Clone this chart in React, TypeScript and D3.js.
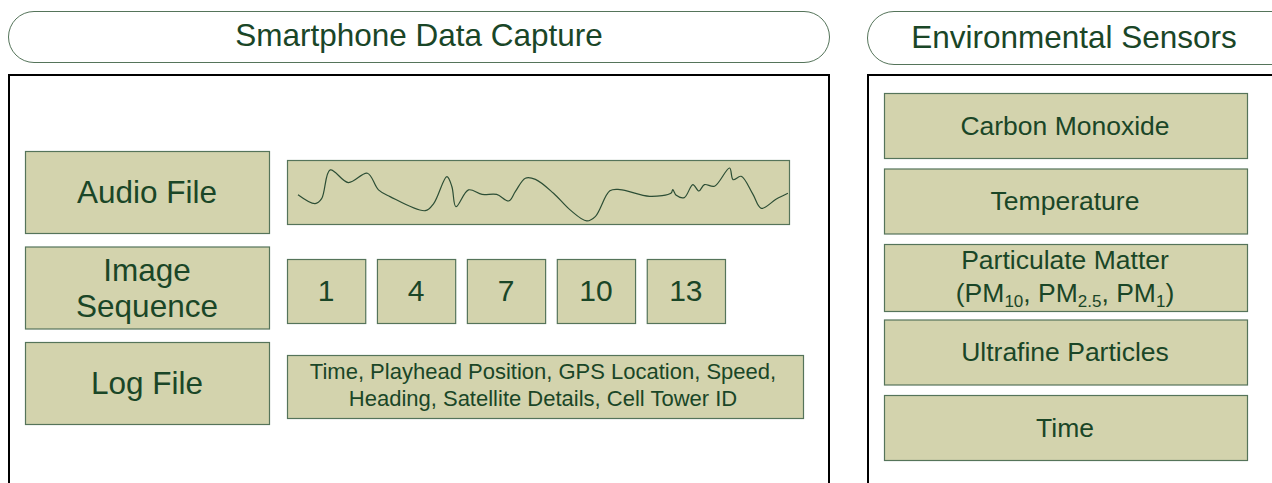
import * as d3 from "d3";

// panel titles
const panelTitles = ["Smartphone Data Capture", "Environmental Sensors"];

// left column rows
const captureLabels = [["Audio File"], ["Image", "Sequence"], ["Log File"]];

// image sequence frame numbers
const frameNumbers = ["1", "4", "7", "10", "13"];

// log file contents
const logLines = [
  "Time, Playhead Position, GPS Location, Speed,",
  "Heading, Satellite Details, Cell Tower ID",
];

// sensor list
const sensorLabels = ["Carbon Monoxide", "Temperature", "Particulate Matter", "Ultrafine Particles", "Time"];

// audio waveform (time 0..100, amplitude -2..2)
const waveTime = [0, 3.4, 4.7, 6.4, 10, 13.8, 16, 18.3, 25.3, 27, 29.6, 30.6, 31.4, 33.9, 36.6, 39.5, 41.9, 43.2, 45.2, 47.2, 50.8, 54.1, 57.4, 59.1, 62, 64, 69.9, 74.2, 74.5, 75.2, 76.8, 78.5, 79.7, 80.8, 82.8, 85.8, 86.5, 88.1, 90.4, 92.1, 95.1, 97.4];
const waveAmp = [0.1, -0.46, -0.15, 1.65, 0.86, 1.44, 0.4, -0.02, -0.9, -0.44, 1.23, 0.6, -0.65, 0.4, 0.12, 0.12, -0.29, 0.29, 1.13, 1.06, 0.19, -0.85, -1.54, -1.27, 0.34, 0.42, 0.0, 0.21, 0.42, 0.06, -0.08, 0.73, 0.33, 0.73, 0.63, 1.77, 1.04, 1.25, 0.15, -0.75, -0.17, 0.19];

const textColor = "#1a4627";
const boxFill = "#d3d3ad";
const boxStroke = "#55745a";
const font = "'Liberation Sans', Arial, sans-serif";

function Box({ x, y, w, h }: { x: number; y: number; w: number; h: number }) {
  return <rect x={x + 0.5} y={y + 0.5} width={w} height={h} fill={boxFill} stroke={boxStroke} strokeWidth={1.2} />;
}

export default function App() {
  const W = 1272;
  const H = 483;

  // waveform box
  const wave = { x: 287, y: 160, w: 502, h: 64 };
  const wx = d3.scaleLinear().domain([0, 100]).range([298, 801]);
  const wy = d3.scaleLinear().domain([-2, 2]).range([228.3, 164.3]);
  const wavePts = waveTime.map((t, i) => [t, waveAmp[i]] as [number, number]);
  const wavePath = d3
    .line<[number, number]>()
    .x((d) => wx(d[0]))
    .y((d) => wy(d[1]))
    .curve(d3.curveCatmullRom.alpha(0.5))(wavePts) as string;

  // left rows
  const rowY = d3.scalePoint<string>().domain(["0", "1", "2"]).range([151, 342]);
  // frames
  const frameX = d3.scaleBand<string>().domain(frameNumbers).range([287, 725]).paddingInner(0.13).paddingOuter(0);
  // sensors
  const sensorY = d3.scalePoint<string>().domain(sensorLabels.map((_, i) => String(i))).range([93, 395]);

  return (
    <svg width={W} height={H} style={{ position: "absolute", left: 0, top: 0, background: "#fff" }} fontFamily={font}>
      {/* title pills */}
      <rect x={8.5} y={11.5} width={821} height={51} rx={25.5} fill="#fff" stroke={boxStroke} strokeWidth={1} />
      <rect x={867.5} y={11.5} width={440} height={53} rx={26.5} fill="#fff" stroke={boxStroke} strokeWidth={1} />
      <text x={419} y={46} textAnchor="middle" fontSize={31.5} fill={textColor}>{panelTitles[0]}</text>
      <text x={1074} y={48} textAnchor="middle" fontSize={31.5} fill={textColor}>{panelTitles[1]}</text>

      {/* outer panels */}
      <rect x={9} y={75} width={820} height={440} fill="none" stroke="#000" strokeWidth={2} />
      <rect x={868} y={75} width={440} height={440} fill="none" stroke="#000" strokeWidth={2} />

      {/* capture rows */}
      {captureLabels.map((lines, i) => {
        const y = rowY(String(i)) as number;
        const cy = y + 41;
        return (
          <g key={i}>
            <Box x={25} y={y} w={244} h={82} />
            {lines.map((ln, j) => (
              <text key={j} x={147} y={cy + (j - (lines.length - 1) / 2) * 36 + 11} textAnchor="middle" fontSize={31.5} fill={textColor}>
                {ln}
              </text>
            ))}
          </g>
        );
      })}

      {/* audio waveform */}
      <Box x={wave.x} y={wave.y} w={wave.w} h={wave.h} />
      <path d={wavePath} fill="none" stroke="#2c4e35" strokeWidth={1.2} />

      {/* image frames */}
      {frameNumbers.map((n) => {
        const x = frameX(n) as number;
        return (
          <g key={n}>
            <Box x={x} y={259} w={frameX.bandwidth()} h={64} />
            <text x={x + frameX.bandwidth() / 2} y={301} textAnchor="middle" fontSize={30} fill={textColor}>{n}</text>
          </g>
        );
      })}

      {/* log contents */}
      <Box x={287} y={355} w={516} h={63} />
      {logLines.map((ln, j) => (
        <text key={j} x={543} y={379 + j * 27} textAnchor="middle" fontSize={22} fill={textColor}>{ln}</text>
      ))}

      {/* sensors */}
      {sensorLabels.map((s, i) => {
        const y = sensorY(String(i)) as number;
        const h = i === 2 ? 67 : 65;
        return (
          <g key={s}>
            <Box x={884} y={y} w={363} h={h} />
            {i === 2 ? (
              <>
                <text x={1065} y={269} textAnchor="middle" fontSize={26.5} fill={textColor}>{s}</text>
                <text x={1065} y={302} textAnchor="middle" fontSize={26.5} fill={textColor}>
                  (PM<tspan fontSize={17} dy={5}>10</tspan>
                  <tspan dy={-5}>, PM</tspan>
                  <tspan fontSize={17} dy={5}>2.5</tspan>
                  <tspan dy={-5}>, PM</tspan>
                  <tspan fontSize={17} dy={5}>1</tspan>
                  <tspan dy={-5}>)</tspan>
                </text>
              </>
            ) : (
              <text x={1065} y={y + h / 2 + 9} textAnchor="middle" fontSize={26.5} fill={textColor}>{s}</text>
            )}
          </g>
        );
      })}
    </svg>
  );
}
